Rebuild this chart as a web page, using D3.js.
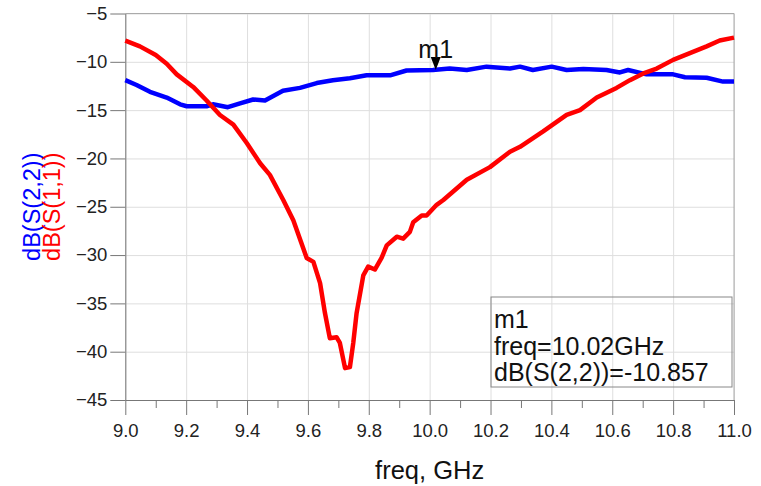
<!DOCTYPE html>
<html>
<head>
<meta charset="utf-8">
<script src="https://cdn.jsdelivr.net/npm/d3@7"></script>
<style>
  body { margin: 0; background: #fff; }
  text { font-family: "Liberation Sans", Arial, sans-serif; }
</style>
</head>
<body>
<div id="chart"></div>
<script>
// S11 (red) and S22 (blue)
const freqS11 = [9.0, 9.048, 9.100, 9.136, 9.169, 9.223, 9.267, 9.311, 9.355, 9.399, 9.443, 9.475, 9.519, 9.552, 9.596, 9.618, 9.640, 9.656, 9.672, 9.694, 9.705, 9.722, 9.738, 9.749, 9.760, 9.782, 9.798, 9.820, 9.842, 9.859, 9.892, 9.913, 9.935, 9.946, 9.974, 9.990, 10.023, 10.045, 10.122, 10.198, 10.264, 10.297, 10.373, 10.450, 10.494, 10.549, 10.614, 10.658, 10.702, 10.746, 10.800, 10.855, 10.910, 10.953, 11.0]
const dbS11 = [-7.8, -8.4, -9.3, -10.2, -11.3, -12.6, -14.0, -15.5, -16.5, -18.4, -20.5, -21.7, -24.3, -26.4, -30.3, -30.7, -32.9, -36.0, -38.6, -38.5, -39.1, -41.7, -41.6, -39.1, -36.0, -32.1, -31.2, -31.5, -30.3, -29.0, -28.1, -28.3, -27.6, -26.6, -25.9, -25.9, -24.8, -24.3, -22.2, -20.9, -19.3, -18.8, -17.2, -15.5, -15.0, -13.7, -12.7, -11.9, -11.2, -10.7, -9.8, -9.1, -8.4, -7.8, -7.5]

const freqS22 = [9.0, 9.037, 9.081, 9.136, 9.180, 9.202, 9.267, 9.288, 9.337, 9.377, 9.420, 9.459, 9.518, 9.574, 9.629, 9.682, 9.738, 9.793, 9.870, 9.924, 10.011, 10.066, 10.122, 10.187, 10.264, 10.297, 10.339, 10.401, 10.450, 10.505, 10.581, 10.625, 10.652, 10.713, 10.800, 10.839, 10.910, 10.964, 11.0]
const dbS22 = [-11.9, -12.4, -13.1, -13.7, -14.4, -14.6, -14.6, -14.4, -14.7, -14.3, -13.9, -14.0, -13.0, -12.7, -12.2, -11.9, -11.7, -11.4, -11.4, -10.9, -10.85, -10.7, -10.85, -10.5, -10.7, -10.5, -10.85, -10.5, -10.85, -10.75, -10.85, -11.1, -10.85, -11.3, -11.3, -11.6, -11.65, -12.05, -12.05]

const xTicks = [9.0, 9.2, 9.4, 9.6, 9.8, 10.0, 10.2, 10.4, 10.6, 10.8, 11.0]
const xMinorTicks = [9.1, 9.3, 9.5, 9.7, 9.9, 10.1, 10.3, 10.5, 10.7, 10.9]
const yTicks = [-5, -10, -15, -20, -25, -30, -35, -40, -45]

const markerName = 'm1'
const markerFreq = 10.02
const markerValue = -10.857

const margin = { top: 13.5, right: 27, bottom: 86, left: 125.3 }
const width = 761 - margin.left - margin.right
const height = 486 - margin.top - margin.bottom

const svg = d3
  .select('#chart')
  .append('svg')
  .attr('width', 761)
  .attr('height', 486)
  .append('g')
  .attr('transform', 'translate(' + margin.left + ',' + margin.top + ')')

const x = d3.scaleLinear().domain([9, 11]).range([0, width])
const y = d3.scaleLinear().domain([-45, -5]).range([height, 0])

/* grid */
svg.append('g')
  .attr('class', 'grid')
  .call(d3.axisBottom(x).tickValues(xTicks).tickSize(height).tickFormat(''))
svg.append('g')
  .attr('class', 'grid')
  .call(d3.axisLeft(y).tickValues(yTicks).tickSize(-width).tickFormat(''))
svg.selectAll('.grid .domain').remove()
svg.selectAll('.grid line').attr('stroke', '#dedede')

/* frame top and right */
svg.append('line')
  .attr('x1', 0).attr('x2', width).attr('y1', 0).attr('y2', 0)
  .attr('stroke', '#aaa')
svg.append('line')
  .attr('x1', width).attr('x2', width).attr('y1', 0).attr('y2', height)
  .attr('stroke', '#aaa')

/* axes */
const xAxis = d3.axisBottom(x)
  .tickValues(xTicks)
  .tickSize(15)
  .tickSizeOuter(0)
  .tickPadding(9)
  .tickFormat(d3.format('.1f'))
svg.append('g')
  .attr('class', 'axis x-axis')
  .attr('transform', 'translate(0,' + height + ')')
  .call(xAxis)

svg.append('g')
  .attr('class', 'axis x-minor')
  .attr('transform', 'translate(0,' + height + ')')
  .call(d3.axisBottom(x).tickValues(xMinorTicks).tickSize(8).tickFormat(''))
svg.select('.x-minor .domain').remove()

const yAxis = d3.axisLeft(y)
  .tickValues(yTicks)
  .tickSize(15)
  .tickSizeOuter(0)
  .tickPadding(3)
svg.append('g')
  .attr('class', 'axis y-axis')
  .call(yAxis)

svg.selectAll('.axis .domain').attr('stroke', '#777')
svg.selectAll('.axis line').attr('stroke', '#777')
svg.selectAll('.axis text')
  .attr('fill', '#222')
  .style('font-size', '18.5px')
  .style('font-family', '"Liberation Sans", Arial, sans-serif')

/* curves */
const line = d3.line()
  .x(d => x(d[0]))
  .y(d => y(d[1]))

svg.append('path')
  .datum(d3.zip(freqS22, dbS22))
  .attr('d', line)
  .attr('fill', 'none')
  .attr('stroke', '#0000ff')
  .attr('stroke-width', 4.5)
  .attr('stroke-linejoin', 'round')

svg.append('path')
  .datum(d3.zip(freqS11, dbS11))
  .attr('d', line)
  .attr('fill', 'none')
  .attr('stroke', '#ff0000')
  .attr('stroke-width', 4.5)
  .attr('stroke-linejoin', 'round')

/* marker */
const mx = x(markerFreq)
const my = y(markerValue)
svg.append('path')
  .attr('d', 'M' + (mx - 5) + ',' + (my - 13) + 'L' + (mx + 5) + ',' + (my - 13) + 'L' + mx + ',' + my + 'Z')
  .attr('fill', '#000')
svg.append('text')
  .attr('x', mx)
  .attr('y', my - 12)
  .attr('text-anchor', 'middle')
  .style('font-size', '25px')
  .attr('fill', '#111')
  .text(markerName)

/* marker readout box */
const box = svg.append('g')
  .attr('transform', 'translate(' + (width - 243) + ',' + (height - 103) + ')')
box.append('rect')
  .attr('width', 241)
  .attr('height', 90)
  .attr('fill', 'none')
  .attr('stroke', '#888')
const readout = [markerName, 'freq=' + markerFreq.toFixed(2) + 'GHz', 'dB(S(2,2))=' + markerValue.toFixed(3)]
box.selectAll('.readout')
  .data(readout)
  .enter()
  .append('text')
  .attr('class', 'readout')
  .attr('x', 3)
  .attr('y', (d, i) => 31 + i * 26.5)
  .style('font-size', '25px')
  .attr('fill', '#111')
  .text(d => d)

/* axis labels */
svg.append('text')
  .attr('x', width / 2)
  .attr('y', height + 79)
  .attr('text-anchor', 'middle')
  .style('font-size', '25.5px')
  .attr('fill', '#111')
  .text('freq, GHz')

svg.append('text')
  .attr('transform', 'translate(' + (40 - margin.left) + ',' + (height / 2) + ') rotate(-90)')
  .attr('text-anchor', 'middle')
  .style('font-size', '23.5px')
  .attr('fill', '#0000ff')
  .text('dB(S(2,2))')

svg.append('text')
  .attr('transform', 'translate(' + (60 - margin.left) + ',' + (height / 2) + ') rotate(-90)')
  .attr('text-anchor', 'middle')
  .style('font-size', '23.5px')
  .attr('fill', '#ff0000')
  .text('dB(S(1,1))')
</script>
</body>
</html>
